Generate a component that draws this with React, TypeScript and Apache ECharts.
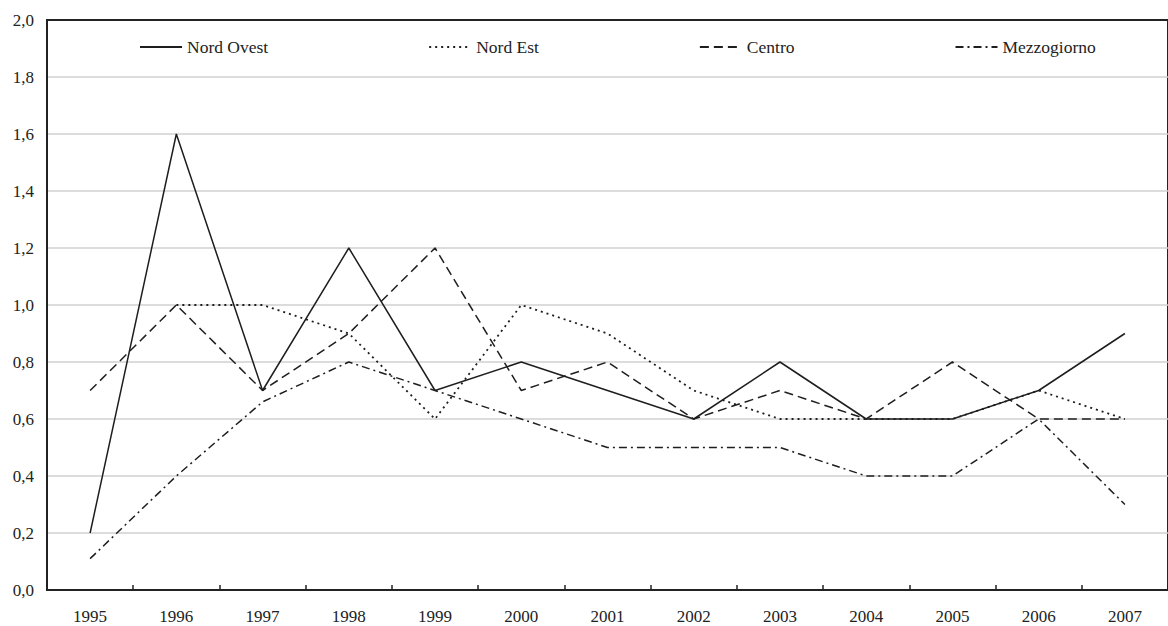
import React, { useEffect, useRef } from "react";
import * as echarts from "echarts";

const years = ["1995", "1996", "1997", "1998", "1999", "2000", "2001", "2002", "2003", "2004", "2005", "2006", "2007"];
const nordOvest = [0.2, 1.6, 0.7, 1.2, 0.7, 0.8, 0.7, 0.6, 0.8, 0.6, 0.6, 0.7, 0.9];
const nordEst = [null, 1.0, 1.0, 0.9, 0.6, 1.0, 0.9, 0.7, 0.6, 0.6, 0.6, 0.7, 0.6];
const centro = [0.7, 1.0, 0.7, 0.9, 1.2, 0.7, 0.8, 0.6, 0.7, 0.6, 0.8, 0.6, 0.6];
const mezzogiorno = [0.11, 0.4, 0.66, 0.8, 0.7, 0.6, 0.5, 0.5, 0.5, 0.4, 0.4, 0.6, 0.3];

const FONT = "Liberation Serif";
const LINE = "#1e1e1e";

export default function App() {
  const ref = useRef<HTMLDivElement>(null);
  useEffect(() => {
    if (!ref.current) return;
    const chart = echarts.init(ref.current, undefined, { renderer: "svg" });
    const mk = (name: string, data: (number | null)[], type: any, width = 1.5) => ({
      name,
      type: "line",
      data,
      symbol: "none",
      connectNulls: false,
      lineStyle: { color: LINE, width, type },
      itemStyle: { color: LINE },
    });
    chart.setOption({
      animation: false,
      backgroundColor: "#fff",
      textStyle: { fontFamily: FONT },
      legend: {
        left: 134,
        top: 33,
        itemGap: 160,
        itemWidth: 42,
        itemHeight: 14,
        itemStyle: { opacity: 0, borderWidth: 0 },
        textStyle: { fontFamily: FONT, fontSize: 17.5, color: "#222", lineHeight: 18 },
        data: ["Nord Ovest", "Nord Est", "Centro", "Mezzogiorno"],
      },
      grid: {
        left: 47,
        top: 20,
        width: 1131.8,
        height: 570,
        show: true,
        borderColor: "#222",
        borderWidth: 2,
        backgroundColor: "transparent",
      },
      xAxis: {
        type: "category",
        data: years,
        boundaryGap: true,
        axisLine: { lineStyle: { color: "#222", width: 2 } },
        axisTick: { show: true, inside: true, length: 5, lineStyle: { color: "#222", width: 1.5 } },
        axisLabel: { fontFamily: FONT, fontSize: 17, color: "#222", margin: 18 },
        splitLine: { show: false },
      },
      yAxis: {
        type: "value",
        min: 0,
        max: 2,
        interval: 0.2,
        axisLine: { show: true, lineStyle: { color: "#222", width: 2 } },
        axisTick: { show: false },
        axisLabel: {
          fontFamily: FONT,
          fontSize: 17,
          color: "#222",
          margin: 13,
          formatter: (v: number) => v.toFixed(1).replace(".", ","),
        },
        splitLine: { show: true, showMaxLine: false, showMinLine: false, lineStyle: { color: "#d0d0d0", width: 1.5 } },
      },
      series: [
        mk("Nord Ovest", nordOvest, "solid"),
        mk("Nord Est", nordEst, [2, 4], 1.8),
        mk("Centro", centro, [9, 5]),
        mk("Mezzogiorno", mezzogiorno, [8, 4, 2, 4]),
      ],
    });
    return () => chart.dispose();
  }, []);
  return (
    <div
      ref={ref}
      style={{ position: "fixed", left: 0, top: 0, width: 1168, height: 626, background: "#fff" }}
    />
  );
}
